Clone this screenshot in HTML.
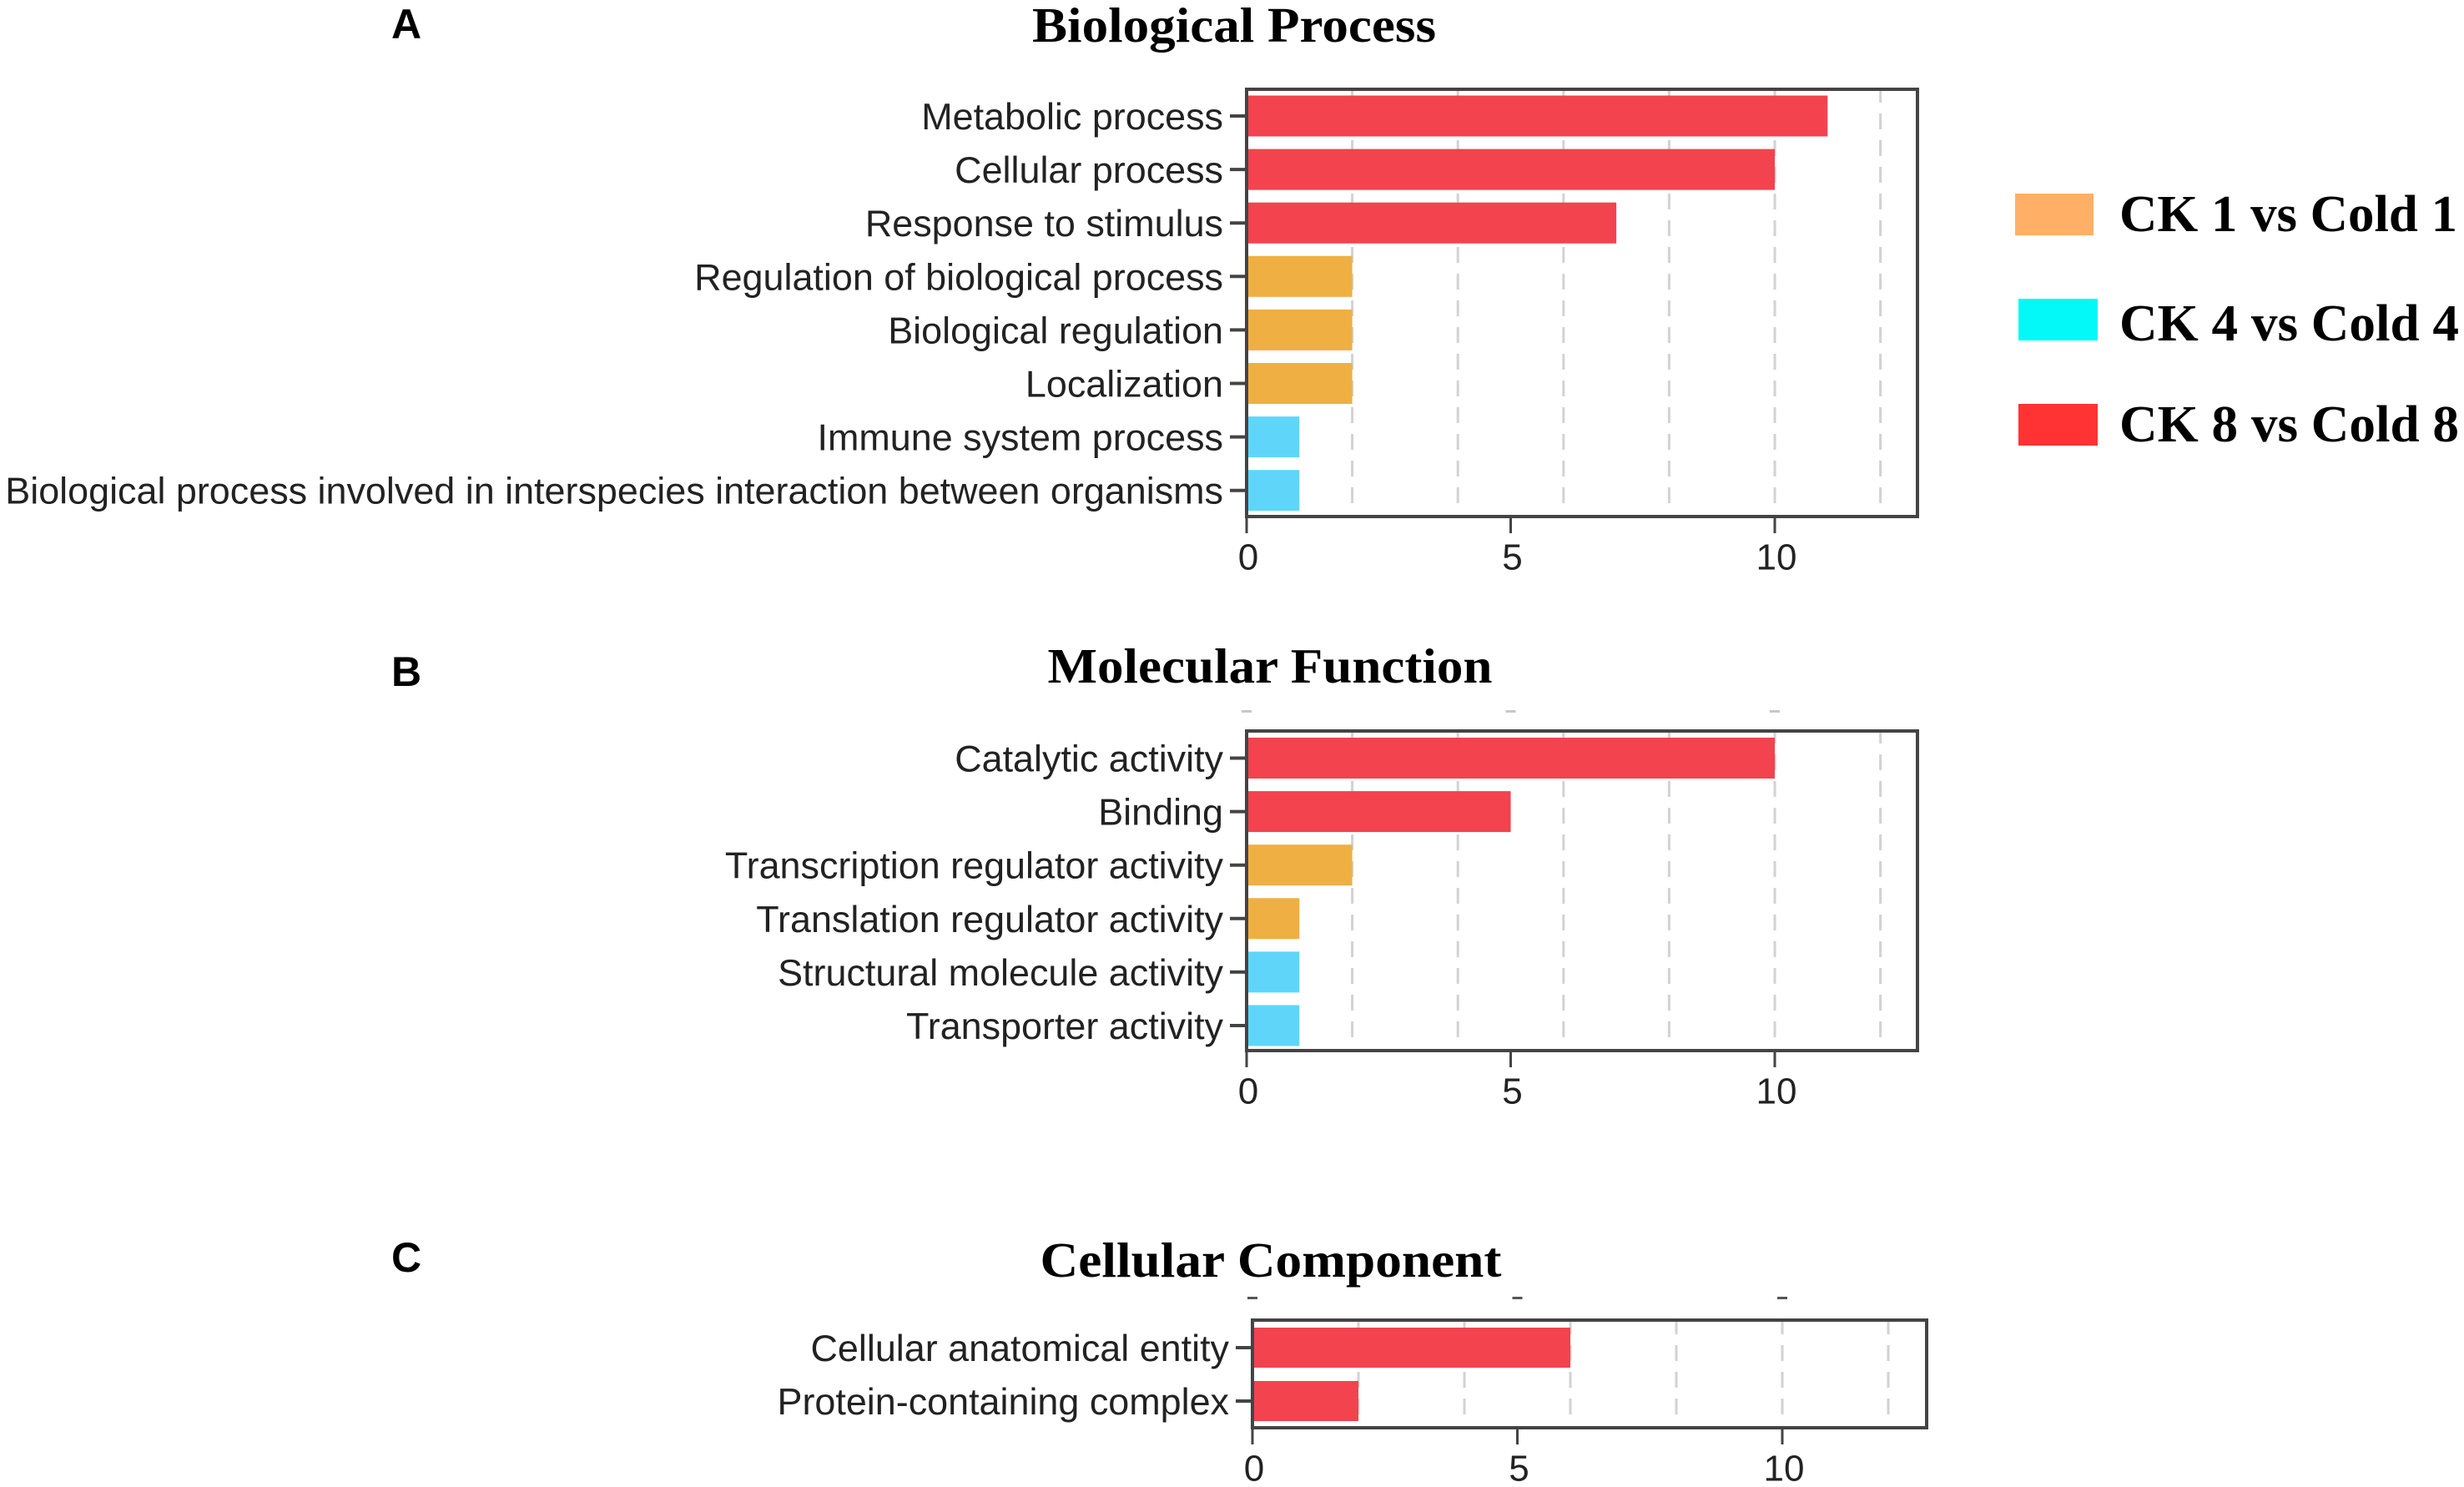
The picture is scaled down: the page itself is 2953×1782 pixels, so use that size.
<!DOCTYPE html>
<html lang="en">
<head>
<meta charset="utf-8">
<title>GO enrichment bar charts</title>
<style>
html,body{margin:0;padding:0;background:#fff;width:2953px;height:1782px;overflow:hidden}
svg{display:block}
.title{font-family:"Liberation Serif",serif;font-weight:700;font-size:59px;fill:#000;text-anchor:middle}
.panel{font-family:"Liberation Sans",sans-serif;font-weight:700;font-size:50px;fill:#000;text-anchor:middle}
.leg{font-family:"Liberation Serif",serif;font-weight:700;font-size:62px;fill:#000}
.cat{font-family:"Liberation Sans",sans-serif;font-size:44.9px;fill:#222;text-anchor:end;dominant-baseline:central}
.tick{font-family:"Liberation Sans",sans-serif;font-size:44px;fill:#222;text-anchor:middle;dominant-baseline:central}
</style>
</head>
<body>
<svg id="chart" xmlns="http://www.w3.org/2000/svg" width="2953" height="1782" viewBox="0 0 2953 1782">
  <rect x="0" y="0" width="2953" height="1782" fill="#ffffff"/>
  <text class="panel" x="487" y="46">A</text>
  <text class="panel" x="487" y="822">B</text>
  <text class="panel" x="487" y="1524">C</text>
  <text class="title" x="1479" y="50" textLength="484" lengthAdjust="spacingAndGlyphs">Biological Process</text>
  <text class="title" x="1522" y="818" textLength="533" lengthAdjust="spacingAndGlyphs">Molecular Function</text>
  <text class="title" x="1523" y="1530" textLength="553" lengthAdjust="spacingAndGlyphs">Cellular Component</text>

  <rect x="2415" y="232" width="94" height="50" fill="#ffb066"/>
  <text class="leg" x="2540" y="277" textLength="405" lengthAdjust="spacingAndGlyphs">CK 1 vs Cold 1</text>
  <rect x="2419" y="358" width="95" height="50" fill="#02f9f7"/>
  <text class="leg" x="2540" y="408" textLength="407" lengthAdjust="spacingAndGlyphs">CK 4 vs Cold 4</text>
  <rect x="2419" y="484" width="95" height="50" fill="#ff3333"/>
  <text class="leg" x="2540" y="529" textLength="407" lengthAdjust="spacingAndGlyphs">CK 8 vs Cold 8</text>
</svg>
<script>
const bpCategories = ['Metabolic process','Cellular process','Response to stimulus','Regulation of biological process','Biological regulation','Localization','Immune system process','Biological process involved in interspecies interaction between organisms'];
const bpValues = [11,10,7,2,2,2,1,1];
const bpSeries = ['ck8','ck8','ck8','ck1','ck1','ck1','ck4','ck4'];

const mfCategories = ['Catalytic activity','Binding','Transcription regulator activity','Translation regulator activity','Structural molecule activity','Transporter activity'];
const mfValues = [10,5,2,1,1,1];
const mfSeries = ['ck8','ck8','ck1','ck1','ck4','ck4'];

const ccCategories = ['Cellular anatomical entity','Protein-containing complex'];
const ccValues = [6,2];
const ccSeries = ['ck8','ck8'];

const xTickLabels = [0,5,10];
const gridValues = [2,4,6,8,10,12];

const seriesColors = {ck1:'#efaf42',ck4:'#5fd6f9',ck8:'#f2434e'};
const svg = document.getElementById('chart');
const NS = 'http://www.w3.org/2000/svg';

function make(tag, attrs, parent){
  const el = document.createElementNS(NS, tag);
  for (const k in attrs) el.setAttribute(k, attrs[k]);
  parent.appendChild(el);
  return el;
}

function drawPanel(key, categories, values, series, box){
  const g = make('g', {}, svg);
  
  
  const xScale = v => box.x0 + v * box.unit;
  const yCenter = i => box.firstY + i * box.step;

  gridValues.forEach(v => {
    const line = make('line', {x1:xScale(v), x2:xScale(v), y1:box.bottom-16, y2:box.top, stroke:'#d2d2d2', 'stroke-width':3, 'stroke-dasharray':'19 13'}, g);
    
    
  });

  values.forEach((v, i) => {
    const bar = make('rect', {x:xScale(0), y:yCenter(i)-box.barH/2, width:xScale(v)-xScale(0), height:box.barH, fill:seriesColors[series[i]]}, g);
    
    
  });

  const frame = make('rect', {x:box.x0, y:box.top, width:box.right-box.x0, height:box.bottom-box.top, fill:'none', stroke:'#444444', 'stroke-width':4}, g);
  
  

  categories.forEach((c, i) => {
    const tick = make('line', {x1:box.x0-20, x2:box.x0, y1:yCenter(i), y2:yCenter(i), stroke:'#444444', 'stroke-width':4}, g);
    
    
    const label = make('text', {class:'cat', x:box.x0-28, y:yCenter(i)+0.5}, g);
    label.textContent = c;
    
    
  });

  xTickLabels.forEach(v => {
    const tick = make('line', {x1:xScale(v), x2:xScale(v), y1:box.bottom, y2:box.bottom+20, stroke:'#444444', 'stroke-width':3}, g);
    
    
    const label = make('text', {class:'tick', x:xScale(v)+2, y:box.bottom+49}, g);
    label.textContent = String(v);
    
    
    if (box.stubY) {
      const stub = make('rect', {x:xScale(v)-6, y:box.stubY, width:12, height:3, fill:box.stubColor}, g);
      
      
    }
  });
}

drawPanel('biological-process', bpCategories, bpValues, bpSeries, {x0:1494,unit:63.3,right:2298,top:107,bottom:619,firstY:139,step:64.1,barH:49});
drawPanel('molecular-function', mfCategories, mfValues, mfSeries, {x0:1494,unit:63.3,right:2298,top:876,bottom:1259,firstY:908.5,step:64.1,barH:49,stubY:851,stubColor:'#c8c8c8'});
drawPanel('cellular-component', ccCategories, ccValues, ccSeries, {x0:1501,unit:63.5,right:2309,top:1582,bottom:1711,firstY:1615,step:64,barH:48,stubY:1554,stubColor:'#555555'});
</script>
</body>
</html>
